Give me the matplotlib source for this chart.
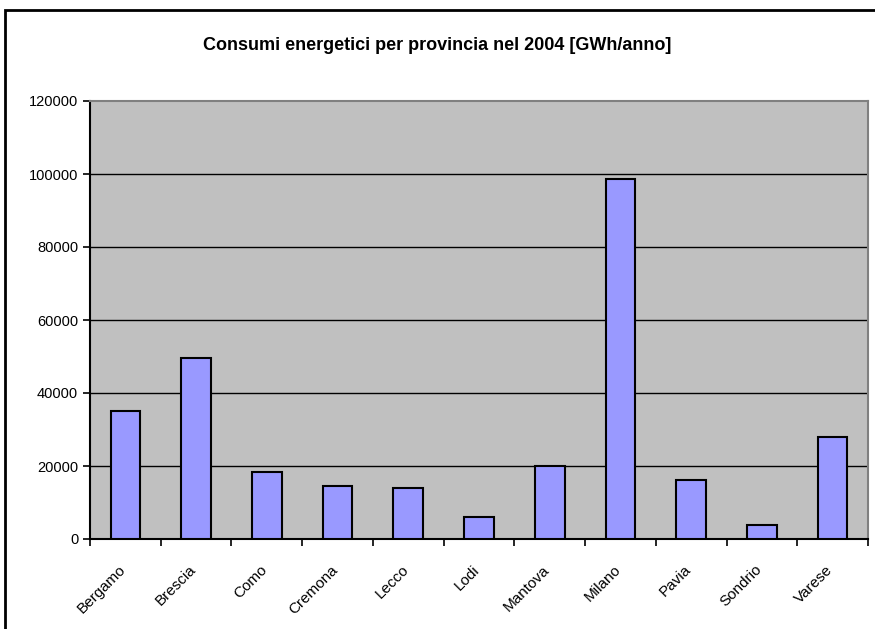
import numpy as np
import matplotlib
matplotlib.use("Agg")
from matplotlib import pyplot as plt
from matplotlib.patches import Rectangle
from matplotlib.transforms import ScaledTranslation

province = ['Bergamo', 'Brescia', 'Como', 'Cremona', 'Lecco', 'Lodi',
            'Mantova', 'Milano', 'Pavia', 'Sondrio', 'Varese']
consumi = [35000, 49700, 18300, 14600, 13900, 5900,
           20000, 98600, 16100, 3700, 27900]
y_ticks = [0, 20000, 40000, 60000, 80000, 100000, 120000]

plt.rcParams['font.family'] = ['Liberation Sans', 'DejaVu Sans']

fig = plt.figure(figsize=(8.75, 6.29), dpi=100)
fig.patches.append(Rectangle((5 / 875, -0.1), 1.2, 1 - 10 / 629 + 0.1,
                             transform=fig.transFigure, fill=False,
                             edgecolor='black', linewidth=2))

ax = fig.add_axes([90 / 875, 1 - 539 / 629, 778 / 875, 438 / 629])
ax.set_facecolor('#C0C0C0')

x = np.arange(len(province))
ax.bar(x, consumi, width=0.42, color='#9999FF', edgecolor='black',
       linewidth=1.5, zorder=3)

ax.set_ylim(0, 120000)
ax.set_xlim(-0.5, len(province) - 0.5)
ax.set_yticks(y_ticks)
ax.set_yticklabels([str(v) for v in y_ticks], fontsize=10.5)
for v in y_ticks[1:-1]:
    ax.axhline(v, color='black', linewidth=1, zorder=1)

# etichette al centro, tacche tra le categorie
ax.set_xticks(np.arange(-0.5, len(province)), labels=[])
ax.set_xticks(x, minor=True)
ax.set_xticklabels(province, minor=True, rotation=45, ha='right',
                   rotation_mode='anchor', fontsize=11)
ax.tick_params(axis='x', which='minor', length=0, pad=17)
ax.tick_params(axis='both', which='major', direction='out', length=5,
               width=1.2, color='black')
spost = ScaledTranslation(-7 / 100, 0, fig.dpi_scale_trans)
for lab in ax.get_xticklabels(minor=True):
    lab.set_transform(lab.get_transform() + spost)

ax.spines['left'].set_linewidth(1.5)
ax.spines['bottom'].set_linewidth(1.5)
ax.spines['top'].set_color('#808080')
ax.spines['right'].set_color('#808080')
ax.spines['top'].set_linewidth(1.5)
ax.spines['right'].set_linewidth(1.5)

fig.text(437 / 875, 1 - 45 / 629,
         'Consumi energetici per provincia nel 2004 [GWh/anno]',
         ha='center', va='center', fontsize=13, fontweight='bold')

fig.savefig('out.png', dpi=100)
